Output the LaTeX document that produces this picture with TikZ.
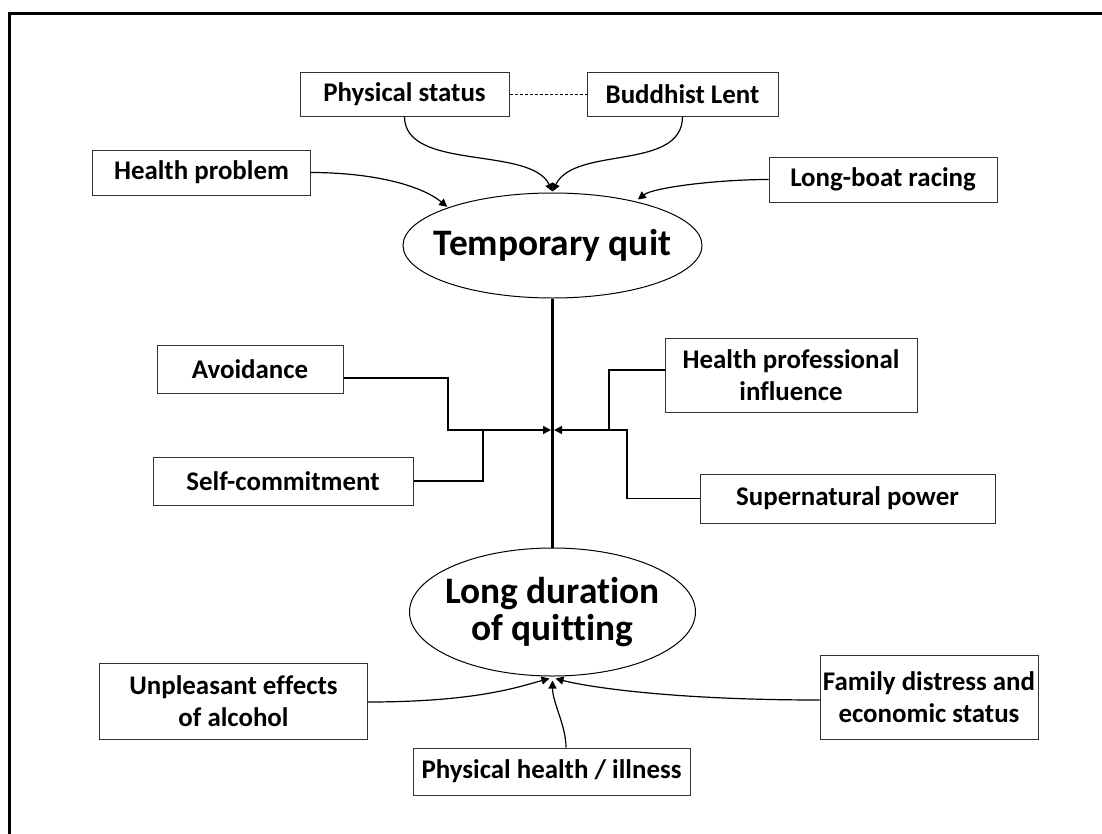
\documentclass[tikz,border=0pt]{standalone}
\usepackage{fontspec}
\setmainfont{Carlito}[Ligatures=NoCommon]
\usetikzlibrary{arrows.meta,shapes.geometric}
\begin{document}
\begin{tikzpicture}[x=1bp,y=-1bp,
  box/.style={draw=black!80,line width=1bp,inner sep=0pt,align=center,
    font=\bfseries\fontsize{27}{32}\selectfont},
  oval/.style={draw,ellipse,line width=1bp,inner sep=0pt},
  ovaltext/.style={inner sep=0pt,align=center,
    font=\bfseries\fontsize{37.5}{38}\selectfont},
  conn/.style={line width=1.4bp},
  arr/.style={-{Triangle[length=8bp,width=8bp]}},
  link/.style={line width=1.2bp}]
\useasboundingbox (0,0) rectangle (1102,834);
\fill[white] (0,0) rectangle (1102,834);
\draw[line width=3bp] (9,845) -- (9,13) -- (1115,13);

% top boxes
\node[box,minimum width=209bp,minimum height=44bp] (ps) at (404.5,94) {Physical status};
\node[box,minimum width=191bp,minimum height=44bp] (bl) at (682.5,94) {Buddhist Lent};
\node[box,minimum width=217bp,minimum height=45bp] (hp) at (201.5,172.5) {Health problem};
\node[box,minimum width=228bp,minimum height=45bp] (lb) at (883,179.5) {Long-boat racing};
\node[oval,minimum width=299bp,minimum height=105bp] (tq) at (552.5,245.5) {};
\node[ovaltext] (tqt) at (tq.center) {Temporary quit};

% middle boxes
\node[box,minimum width=186bp,minimum height=48bp] (av) at (250,369) {Avoidance};
\node[box,minimum width=260bp,minimum height=48bp] (sc) at (283,481) {Self-commitment};
\node[box,minimum width=252bp,minimum height=74bp] (hpi) at (791,375) {Health professional\\influence};
\node[box,minimum width=295bp,minimum height=49bp] (sp) at (847.5,498.5) {Supernatural power};

\node[oval,minimum width=286bp,minimum height=128bp] (ld) at (552.5,612) {};
\node[ovaltext] (ldt) at (ld.center) {Long duration\\of quitting};

% bottom boxes
\node[box,minimum width=267bp,minimum height=76bp] (ue) at (233.5,701) {Unpleasant effects\\of alcohol};
\node[box,minimum width=218bp,minimum height=84bp] (fd) at (929,697) {Family distress and\\economic status};
\node[box,minimum width=277bp,minimum height=47bp] (ph) at (551.5,771.5) {Physical health / illness};

\coordinate (j) at (552.5,430);

% top connectors
\draw[line width=0.7bp,dash pattern=on 3bp off 2bp] (ps.east) -- (bl.west);
\draw[link,arr] (ps.south) .. controls +(0,55) and +(-22,-46) .. ([yshift=1bp]tq.north);
\draw[link,arr] (bl.south) .. controls +(0,55) and +(22,-46) .. ([yshift=1bp]tq.north);
\draw[link,arr,shorten >=1bp] (hp.east) .. controls +(60,0) and +(-28,-23) .. (tq.160);
\draw[link,arr,shorten >=3bp] (lb.west) .. controls +(-50,0) and +(18,-14) .. (tq.28);

% central line
\draw[line width=3bp] (tq.south) -- (ld.north);

% middle connectors
\draw[conn,arr] ([yshift=-9bp]av.east) -| (448,430) -- ([xshift=-1.5bp]j);
\draw[conn] (sc.east) -| (483,430);
\draw[conn,arr] ([yshift=5bp]hpi.west) -| (609,430) -- ([xshift=1.5bp]j);
\draw[conn] (sp.west) -| (627,430) -- (609,430);

% bottom connectors
\draw[link,arr] ([yshift=-1bp]ue.east) .. controls +(110,0) and +(-30,8) .. ([xshift=-3bp,yshift=-2bp]ld.south);
\draw[link,arr] ([yshift=-3bp]fd.west) .. controls +(-150,0) and +(30,8) .. ([xshift=3bp,yshift=-2bp]ld.south);
\draw[link,arr] ([xshift=14.5bp]ph.north) .. controls +(0,-22) and +(0,22) .. ([yshift=-4bp]ld.south);
\end{tikzpicture}
\end{document}
